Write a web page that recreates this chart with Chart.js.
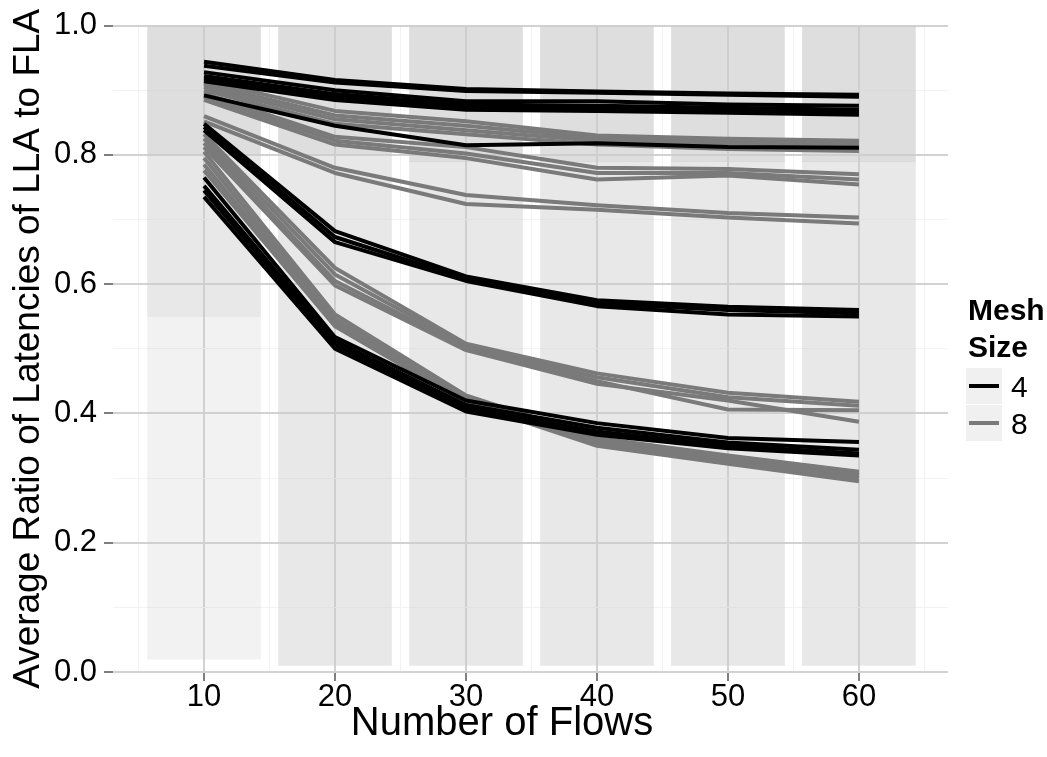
<!DOCTYPE html>
<html>
<head>
<meta charset="utf-8">
<script src="https://cdn.jsdelivr.net/npm/chart.js@4"></script>
<style>
    html, body { margin: 0; padding: 0; background: #fff; }
    #wrap { position: relative; width: 1047px; height: 757px; font-family: "Liberation Sans", Arial, sans-serif; }
    #chart { position: absolute; left: 0; top: 0; }
    .x-title { position: absolute; left: 302px; width: 400px; top: 701px; text-align: center; font-size: 40px; line-height: 40px; color: #000; white-space: nowrap; }
    .leg-title { position: absolute; left: 968px; font-size: 30px; font-weight: bold; line-height: 30px; color: #000; }
    .leg-key { position: absolute; left: 966px; width: 36px; height: 36px; background: #f0f0f0; }
    .leg-key span { position: absolute; left: 3px; right: 3px; top: 16px; height: 4px; }
    .leg-label { position: absolute; left: 1011px; font-size: 30px; line-height: 30px; color: #000; }
</style>
</head>
<body>
<div id="wrap">
    <canvas id="chart" width="1047" height="757"></canvas>

    <div class="x-title">Number of Flows</div>

    <div class="leg-title" style="top:295px">Mesh</div>
    <div class="leg-title" style="top:332px">Size</div>
    <div class="leg-key" style="top:368px"><span style="background:#000"></span></div>
    <div class="leg-label" style="top:372px">4</div>
    <div class="leg-key" style="top:405px"><span style="background:#7a7a7a"></span></div>
    <div class="leg-label" style="top:409px">8</div>
</div>

<script>
/* DATA */
const flows = [10, 20, 30, 40, 50, 60];

// jittered per-run ratios, drawn as density bands per flow column
const cloudTop = [1.0, 1.0, 1.0, 1.0, 1.0, 1.0];
const denseFloor = [0.80, 0.80, 0.79, 0.79, 0.79, 0.79];
const midFloor = [0.55, 0.01, 0.01, 0.01, 0.01, 0.01];
const sparseFloor = [0.02, null, null, null, null, null];

// mean ratio per configuration, mesh size 4
const mesh4Lines = [
    [0.944, 0.916, 0.902, 0.898, 0.895, 0.893],
    [0.938, 0.912, 0.899, 0.896, 0.893, 0.890],
    [0.928, 0.900, 0.883, 0.883, 0.878, 0.876],
    [0.922, 0.894, 0.878, 0.876, 0.873, 0.870],
    [0.918, 0.889, 0.874, 0.872, 0.869, 0.866],
    [0.914, 0.885, 0.870, 0.868, 0.865, 0.862],
    [0.892, 0.845, 0.815, 0.818, 0.812, 0.811],
    [0.848, 0.682, 0.612, 0.575, 0.565, 0.560],
    [0.843, 0.673, 0.608, 0.570, 0.560, 0.555],
    [0.838, 0.665, 0.605, 0.566, 0.553, 0.550],
    [0.765, 0.518, 0.420, 0.385, 0.362, 0.356],
    [0.752, 0.512, 0.413, 0.378, 0.355, 0.344],
    [0.745, 0.506, 0.408, 0.372, 0.350, 0.338],
    [0.735, 0.500, 0.403, 0.367, 0.346, 0.335]
];

// mean ratio per configuration, mesh size 8
const mesh8Lines = [
    [0.915, 0.868, 0.852, 0.830, 0.825, 0.822],
    [0.910, 0.861, 0.845, 0.826, 0.820, 0.817],
    [0.905, 0.855, 0.838, 0.822, 0.815, 0.812],
    [0.900, 0.848, 0.832, 0.816, 0.809, 0.806],
    [0.895, 0.828, 0.812, 0.780, 0.778, 0.770],
    [0.890, 0.822, 0.802, 0.772, 0.772, 0.762],
    [0.885, 0.816, 0.795, 0.762, 0.768, 0.754],
    [0.860, 0.780, 0.738, 0.722, 0.710, 0.703],
    [0.852, 0.772, 0.724, 0.715, 0.703, 0.694],
    [0.832, 0.625, 0.508, 0.462, 0.432, 0.418],
    [0.825, 0.615, 0.505, 0.456, 0.425, 0.412],
    [0.818, 0.605, 0.502, 0.450, 0.406, 0.405],
    [0.812, 0.598, 0.498, 0.446, 0.420, 0.387],
    [0.805, 0.553, 0.428, 0.362, 0.335, 0.310],
    [0.795, 0.546, 0.424, 0.358, 0.330, 0.305],
    [0.785, 0.540, 0.420, 0.354, 0.326, 0.300],
    [0.776, 0.535, 0.417, 0.350, 0.322, 0.295]
];

/* DATASETS */
function band(low, high, color) {
    return {
        type: "bar",
        data: flows.map((f, i) => ({
            x: f,
            y: low[i] === null ? null : [low[i], high[i]]
        })),
        backgroundColor: color,
        borderWidth: 0,
        barThickness: 113,
        grouped: false,
        order: 10
    };
}

function line(values, color) {
    return {
        type: "line",
        data: flows.map((f, i) => ({ x: f, y: values[i] })),
        borderColor: color,
        borderWidth: 4,
        pointRadius: 0,
        tension: 0,
        borderJoinStyle: "round",
        borderCapStyle: "butt",
        fill: false,
        order: 0
    };
}

const datasets = [
    band(denseFloor, cloudTop, "rgba(205, 205, 205, 0.65)"),
    band(midFloor, denseFloor, "rgba(205, 205, 205, 0.45)"),
    band(sparseFloor, midFloor, "rgba(205, 205, 205, 0.25)"),
    ...mesh4Lines.map(v => line(v, "#000000")),
    ...mesh8Lines.map(v => line(v, "#7a7a7a"))
];

/* CHART */
const font = "'Liberation Sans', Arial, sans-serif";

const isMajorX = v => Math.round(v) % 10 === 0;
const isMajorY = v => Math.round(v * 10) % 2 === 0;

new Chart(document.getElementById("chart"), {
    type: "bar",
    data: { datasets },
    options: {
        responsive: false,
        animation: false,
        devicePixelRatio: 1,
        layout: { padding: { top: 21, right: 99, left: 0, bottom: 0 } },
        plugins: {
            legend: { display: false },
            tooltip: { enabled: false }
        },
        scales: {
            x: {
                type: "linear",
                offset: false,
                min: 3.05,
                max: 66.8,
                border: { display: false },
                grid: {
                    offset: false,
                    tickLength: 9,
                    color: c => isMajorX(c.tick.value) ? "#d2d2d2" : "#f2f2f2",
                    lineWidth: c => isMajorX(c.tick.value) ? 2 : 1,
                    tickColor: c => isMajorX(c.tick.value) ? "#7f7f7f" : "rgba(0,0,0,0)",
                    tickWidth: 2
                },
                ticks: {
                    stepSize: 5,
                    includeBounds: false,
                    autoSkip: false,
                    maxRotation: 0,
                    padding: -2,
                    color: "#000",
                    font: { family: font, size: 31 },
                    callback: v => isMajorX(v) ? String(Math.round(v)) : ""
                },
                afterFit: s => { s.height = 85; }
            },
            y: {
                min: 0,
                max: 1,
                border: { display: false },
                grid: {
                    tickLength: 9,
                    color: c => isMajorY(c.tick.value) ? "#d2d2d2" : "#f2f2f2",
                    lineWidth: c => isMajorY(c.tick.value) ? 2 : 1,
                    tickColor: c => isMajorY(c.tick.value) ? "#7f7f7f" : "rgba(0,0,0,0)",
                    tickWidth: 2
                },
                ticks: {
                    stepSize: 0.1,
                    autoSkip: false,
                    padding: 7,
                    color: "#000",
                    font: { family: font, size: 31 },
                    callback: v => isMajorY(v) ? v.toFixed(1) : ""
                },
                title: {
                    display: true,
                    text: "Average Ratio of Latencies of LLA to FLA",
                    color: "#000",
                    font: { family: font, size: 37 },
                    padding: { top: 7, bottom: 0 }
                },
                afterFit: s => { s.width = 113; }
            }
        }
    }
});
</script>
</body>
</html>
